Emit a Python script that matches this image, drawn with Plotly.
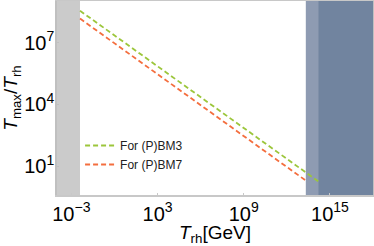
import plotly.graph_objects as go

# Data (T_rh in GeV, ratio T_max/T_rh)
bm3_trh = [4.0e-3, 1.8e14]
bm3_ratio = [3.6e8, 1.7]
bm7_trh = [4.0e-3, 2.1e13]
bm7_ratio = [1.5e8, 2.0]

# excluded regions (T_rh in GeV)
bbn_band = [1e-4, 4.0e-3]
light_band = [2.1e13, 1e18]
dark_band = [1.6e14, 1e18]

xtick_vals = [1e-3, 1e3, 1e9, 1e15]
xtick_text = ["10<sup>−3</sup>", "10<sup>3</sup>", "10<sup>9</sup>", "10<sup>15</sup>"]
ytick_vals = [1e1, 1e4, 1e7]
ytick_text = ["10<sup>1</sup>", "10<sup>4</sup>", "10<sup>7</sup>"]

fig = go.Figure()
fig.add_trace(go.Scatter(x=bm3_trh, y=bm3_ratio, mode="lines", name="For (P)BM3",
                         line=dict(color="#9cc63b", width=1.8, dash="5px,3px")))
fig.add_trace(go.Scatter(x=bm7_trh, y=bm7_ratio, mode="lines", name="For (P)BM7",
                         line=dict(color="#f46e3e", width=1.8, dash="5px,3px")))

fig.add_shape(type="rect", xref="x", yref="paper", x0=bbn_band[0], x1=bbn_band[1],
              y0=0, y1=1, fillcolor="#cbcbcb", line_width=0, layer="below")
fig.add_shape(type="rect", xref="x", yref="paper", x0=light_band[0], x1=light_band[1],
              y0=0, y1=1, fillcolor="#8e9bb2", line_width=0, layer="below")
fig.add_shape(type="rect", xref="x", yref="paper", x0=dark_band[0], x1=dark_band[1],
              y0=0, y1=1, fillcolor="#71849f", line_width=0, layer="below")

fig.update_layout(
    width=374, height=246,
    margin=dict(l=57, r=1, t=1, b=51, autoexpand=False),
    plot_bgcolor="white", paper_bgcolor="white",
    font=dict(family="Liberation Sans, Arial, sans-serif", color="black"),
    showlegend=True,
    legend=dict(x=0.073, y=0.33, xanchor="left", yanchor="top",
                bgcolor="rgba(0,0,0,0)", font=dict(size=12, color="#222"),
                itemwidth=30, tracegroupgap=2),
)
fig.update_xaxes(type="log", range=[-4, 18], tickvals=xtick_vals, ticktext=xtick_text,
                 tickfont=dict(size=20), showgrid=False, zeroline=False, automargin=True,
                 showline=True, linecolor="#c8c8c8", linewidth=1.5, mirror=True,
                 ticks="inside", ticklen=2, tickcolor="#c8c8c8",
                 title=dict(text="<i>T</i><sub>rh</sub>[GeV]", font=dict(size=19), standoff=5))
fig.update_yaxes(type="log", range=[-0.4, 9.03], tickvals=ytick_vals, ticktext=ytick_text,
                 tickfont=dict(size=20), showgrid=False, zeroline=False, automargin=False,
                 showline=True, linecolor="#c0c0c0", linewidth=1.5, mirror=True,
                 ticks="inside", ticklen=2, tickcolor="#c0c0c0", ticklabelstandoff=-3,
                 title=dict(text="<i>T</i><sub>max</sub>/<i>T</i><sub>rh</sub>", font=dict(size=19), standoff=2))

fig.write_html("out.html", config={"displayModeBar": False},
               post_script="document.body.style.margin='0';document.body.style.overflow='hidden';")
